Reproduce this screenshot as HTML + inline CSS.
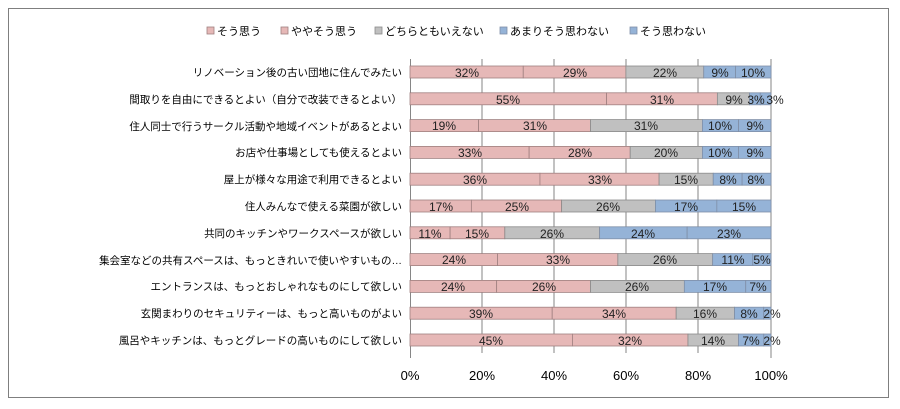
<!DOCTYPE html>
<html><head><meta charset="utf-8"><style>
html,body{margin:0;padding:0;background:#fff;}
svg{display:block;font-family:"Liberation Sans","Noto Sans CJK JP",sans-serif;}
.p{fill:#e6b8b7;stroke:#a08080;stroke-width:0.8}
.g{fill:#c0c0c0;stroke:#8a8a8a;stroke-width:0.8}
.b{fill:#95b3d7;stroke:#7f8fa8;stroke-width:0.8}
.v text{font-size:12px;text-anchor:middle;fill:#222}
.c text{font-size:10.5px;text-anchor:end;fill:#000}
</style></head><body>
<svg width="900" height="409" viewBox="0 0 900 409">
<rect x="8.5" y="8.5" width="880" height="389" fill="#fff" stroke="#7f7f7f" stroke-width="1"/>
<g font-size="11" fill="#000">
<rect x="207" y="27" width="7" height="7" class="p"/><text x="217" y="35">そう思う</text>
<rect x="281" y="27" width="7" height="7" class="p"/><text x="291" y="35">ややそう思う</text>
<rect x="375" y="27" width="7" height="7" class="g"/><text x="385" y="35">どちらともいえない</text>
<rect x="500" y="27" width="7" height="7" class="b"/><text x="510" y="35">あまりそう思わない</text>
<rect x="630" y="27" width="7" height="7" class="b"/><text x="640" y="35">そう思わない</text>
</g>
<g stroke="#868686" stroke-width="1">
<line x1="410.5" y1="59" x2="410.5" y2="358"/>
<line x1="482" y1="59" x2="482" y2="353"/>
<line x1="554" y1="59" x2="554" y2="353"/>
<line x1="626" y1="59" x2="626" y2="353"/>
<line x1="698" y1="59" x2="698" y2="353"/>
<line x1="771" y1="59" x2="771" y2="358"/>
</g>
<g class="c">
<text x="402" y="76">リノベーション後の古い団地に住んでみたい</text>
<text x="402" y="103">間取りを自由にできるとよい（自分で改装できるとよい）</text>
<text x="402" y="130">住人同士で行うサークル活動や地域イベントがあるとよい</text>
<text x="402" y="156">お店や仕事場としても使えるとよい</text>
<text x="402" y="183">屋上が様々な用途で利用できるとよい</text>
<text x="402" y="210">住人みんなで使える菜園が欲しい</text>
<text x="402" y="237">共同のキッチンやワークスペースが欲しい</text>
<text x="402" y="264">集会室などの共有スペースは、もっときれいで使いやすいもの…</text>
<text x="402" y="290">エントランスは、もっとおしゃれなものにして欲しい</text>
<text x="402" y="317">玄関まわりのセキュリティーは、もっと高いものがよい</text>
<text x="402" y="344">風呂やキッチンは、もっとグレードの高いものにして欲しい</text>
</g>
<g>
<rect x="410" y="66" width="113.25" height="12" class="p"/><rect x="523.25" y="66" width="102.64" height="12" class="p"/><rect x="625.89" y="66" width="77.86" height="12" class="g"/><rect x="703.75" y="66" width="31.85" height="12" class="b"/><rect x="735.6" y="66" width="35.4" height="12" class="b"/>
<rect x="410" y="92.8" width="196.58" height="12" class="p"/><rect x="606.58" y="92.8" width="110.8" height="12" class="p"/><rect x="717.38" y="92.8" width="32.17" height="12" class="g"/><rect x="749.55" y="92.8" width="10.72" height="12" class="b"/><rect x="760.27" y="92.8" width="10.73" height="12" class="b"/>
<rect x="410" y="119.6" width="68.59" height="12" class="p"/><rect x="478.59" y="119.6" width="111.91" height="12" class="p"/><rect x="590.5" y="119.6" width="111.91" height="12" class="g"/><rect x="702.41" y="119.6" width="36.1" height="12" class="b"/><rect x="738.51" y="119.6" width="32.49" height="12" class="b"/>
<rect x="410" y="146.4" width="119.13" height="12" class="p"/><rect x="529.13" y="146.4" width="101.08" height="12" class="p"/><rect x="630.21" y="146.4" width="72.2" height="12" class="g"/><rect x="702.41" y="146.4" width="36.1" height="12" class="b"/><rect x="738.51" y="146.4" width="32.49" height="12" class="b"/>
<rect x="410" y="173.2" width="129.96" height="12" class="p"/><rect x="539.96" y="173.2" width="119.13" height="12" class="p"/><rect x="659.09" y="173.2" width="54.15" height="12" class="g"/><rect x="713.24" y="173.2" width="28.88" height="12" class="b"/><rect x="742.12" y="173.2" width="28.88" height="12" class="b"/>
<rect x="410" y="200" width="61.37" height="12" class="p"/><rect x="471.37" y="200" width="90.25" height="12" class="p"/><rect x="561.62" y="200" width="93.86" height="12" class="g"/><rect x="655.48" y="200" width="61.37" height="12" class="b"/><rect x="716.85" y="200" width="54.15" height="12" class="b"/>
<rect x="410" y="226.8" width="40.11" height="12" class="p"/><rect x="450.11" y="226.8" width="54.7" height="12" class="p"/><rect x="504.81" y="226.8" width="94.81" height="12" class="g"/><rect x="599.62" y="226.8" width="87.52" height="12" class="b"/><rect x="687.14" y="226.8" width="83.86" height="12" class="b"/>
<rect x="410" y="253.6" width="87.52" height="12" class="p"/><rect x="497.52" y="253.6" width="120.33" height="12" class="p"/><rect x="617.85" y="253.6" width="94.81" height="12" class="g"/><rect x="712.66" y="253.6" width="40.11" height="12" class="b"/><rect x="752.77" y="253.6" width="18.23" height="12" class="b"/>
<rect x="410" y="280.4" width="86.64" height="12" class="p"/><rect x="496.64" y="280.4" width="93.86" height="12" class="p"/><rect x="590.5" y="280.4" width="93.86" height="12" class="g"/><rect x="684.36" y="280.4" width="61.37" height="12" class="b"/><rect x="745.73" y="280.4" width="25.27" height="12" class="b"/>
<rect x="410" y="307.2" width="142.2" height="12" class="p"/><rect x="552.2" y="307.2" width="123.98" height="12" class="p"/><rect x="676.18" y="307.2" width="58.34" height="12" class="g"/><rect x="734.52" y="307.2" width="29.17" height="12" class="b"/><rect x="763.69" y="307.2" width="7.31" height="12" class="b"/>
<rect x="410" y="334" width="162.45" height="12" class="p"/><rect x="572.45" y="334" width="115.52" height="12" class="p"/><rect x="687.97" y="334" width="50.54" height="12" class="g"/><rect x="738.51" y="334" width="25.27" height="12" class="b"/><rect x="763.78" y="334" width="7.22" height="12" class="b"/>
</g>
<g class="v">
<text x="467" y="77">32%</text><text x="575" y="77">29%</text><text x="665" y="77">22%</text><text x="720" y="77">9%</text><text x="753" y="77">10%</text>
<text x="508" y="104">55%</text><text x="662" y="104">31%</text><text x="734" y="104">9%</text><text x="756" y="104">3%</text><text x="775" y="104">3%</text>
<text x="444" y="130">19%</text><text x="535" y="130">31%</text><text x="646" y="130">31%</text><text x="720" y="130">10%</text><text x="755" y="130">9%</text>
<text x="470" y="157">33%</text><text x="580" y="157">28%</text><text x="666" y="157">20%</text><text x="720" y="157">10%</text><text x="755" y="157">9%</text>
<text x="475" y="184">36%</text><text x="600" y="184">33%</text><text x="686" y="184">15%</text><text x="728" y="184">8%</text><text x="756" y="184">8%</text>
<text x="441" y="211">17%</text><text x="517" y="211">25%</text><text x="608" y="211">26%</text><text x="686" y="211">17%</text><text x="744" y="211">15%</text>
<text x="430" y="238">11%</text><text x="477" y="238">15%</text><text x="552" y="238">26%</text><text x="643" y="238">24%</text><text x="729" y="238">23%</text>
<text x="454" y="264">24%</text><text x="558" y="264">33%</text><text x="665" y="264">26%</text><text x="733" y="264">11%</text><text x="762" y="264">5%</text>
<text x="453" y="291">24%</text><text x="544" y="291">26%</text><text x="637" y="291">26%</text><text x="715" y="291">17%</text><text x="758" y="291">7%</text>
<text x="481" y="318">39%</text><text x="614" y="318">34%</text><text x="705" y="318">16%</text><text x="749" y="318">8%</text><text x="772" y="318">2%</text>
<text x="491" y="345">45%</text><text x="630" y="345">32%</text><text x="713" y="345">14%</text><text x="751" y="345">7%</text><text x="772" y="345">2%</text>
</g>
<g font-size="13" fill="#000" text-anchor="middle">
<text x="410" y="380">0%</text><text x="482" y="380">20%</text><text x="554" y="380">40%</text><text x="626" y="380">60%</text><text x="698" y="380">80%</text><text x="771" y="380">100%</text>
</g>
</svg>
</body></html>
